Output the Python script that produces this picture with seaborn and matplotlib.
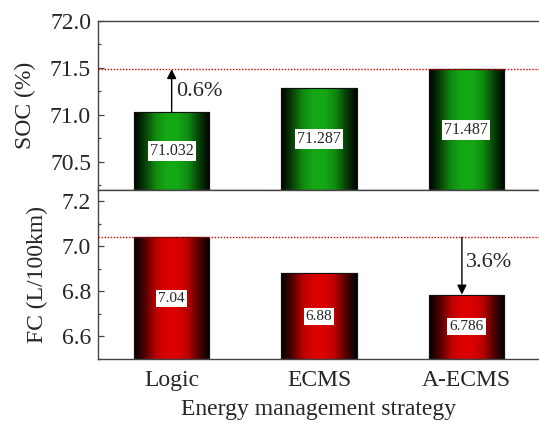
import numpy as np
import pandas as pd
import matplotlib
matplotlib.use("Agg")
import matplotlib.pyplot as plt
import seaborn as sns
from matplotlib.colors import LinearSegmentedColormap

strategies = ["Logic", "ECMS", "A-ECMS"]
soc_values = [71.032, 71.287, 71.487]
fc_values = [7.04, 6.88, 6.786]
soc_labels = ["71.032", "71.287", "71.487"]
fc_labels = ["7.04", "6.88", "6.786"]
soc_gain = "0.6%"
fc_saving = "3.6%"

sns.set_style("ticks")
plt.rcParams["font.family"] = ["Liberation Serif", "DejaVu Serif"]
plt.rcParams["mathtext.fontset"] = "stix"

df = pd.DataFrame({"strategy": strategies, "soc": soc_values, "fc": fc_values})

fig = plt.figure(figsize=(5.39, 4.23), dpi=100)
ax1 = fig.add_axes([98 / 539, 1 - 190 / 423, 442 / 539, 169 / 423])
ax2 = fig.add_axes([98 / 539, 1 - 359 / 423, 442 / 539, 169 / 423])

green_cmap = LinearSegmentedColormap.from_list(
    "g", ["#000000", "#073f07", "#0f8a0f", "#15a815", "#15a815", "#0f8a0f", "#073f07", "#000000"])
red_cmap = LinearSegmentedColormap.from_list(
    "r", ["#000000", "#500000", "#b80000", "#dc0000", "#dc0000", "#b80000", "#500000", "#000000"])


def draw(ax, col, ylim, cmap, labels, fs):
    sns.barplot(data=df, x="strategy", y=col, ax=ax, width=0.51,
                color="#10a010", edgecolor="#111111", linewidth=0.8, saturation=1)
    ax.set_ylim(*ylim)
    ax.set_xlim(-0.5, 2.5)
    grad = np.linspace(0, 1, 256).reshape(1, -1)
    for p, lab in zip(ax.patches, labels):
        x0 = p.get_x()
        w = p.get_width()
        top = p.get_height()
        im = ax.imshow(grad, cmap=cmap, aspect="auto",
                       extent=(x0, x0 + w, ylim[0], top), zorder=p.get_zorder() + 0.1,
                       interpolation="bicubic")
        im.set_clip_path(p)
        ax.add_patch(plt.Rectangle((x0, ylim[0]), w, top - ylim[0], fill=False,
                                   edgecolor="#111111", linewidth=0.8,
                                   zorder=p.get_zorder() + 0.2))
        ax.text(x0 + w / 2, (ylim[0] + top) / 2, lab, ha="center", va="center",
                fontsize=fs, zorder=5,
                bbox=dict(facecolor="white", edgecolor="none", pad=1.5))


draw(ax1, "soc", (70.2, 72.0), green_cmap, soc_labels, 11.5)
draw(ax2, "fc", (6.5, 7.25), red_cmap, fc_labels, 11)

for ax in (ax1, ax2):
    ax.set_xlabel("")
    for s in ax.spines.values():
        s.set_color("#444444")
        s.set_linewidth(1.0)
    ax.tick_params(axis="y", direction="in", length=4, width=0.9, labelsize=17,
                   color="#444444", pad=5)
    ax.tick_params(axis="y", which="minor", direction="in", length=2.5, width=0.9,
                   color="#444444")
    ax.tick_params(axis="x", length=0, labelsize=17, pad=8)

ax1.set_yticks([70.5, 71.0, 71.5, 72.0])
ax1.set_yticks([70.25, 70.75, 71.25, 71.75], minor=True)
ax1.set_yticklabels(["70.5", "71.0", "71.5", "72.0"])
ax1.set_xticks([])
ax1.set_ylabel("SOC (%)", fontsize=17, labelpad=10)

ax2.set_yticks([6.6, 6.8, 7.0, 7.2])
ax2.set_yticks([6.5, 6.7, 6.9, 7.1], minor=True)
ax2.set_yticklabels(["6.6", "6.8", "7.0", "7.2"])
ax2.set_ylabel("FC (L/100km)", fontsize=17, labelpad=10)
ax2.set_xlabel("Energy management strategy", fontsize=17, labelpad=6)

# reference lines
ax1.axhline(soc_values[2], color="#e00000", linestyle=(0, (1, 1.2)), linewidth=1.0, zorder=6)
ax2.axhline(fc_values[0], color="#e00000", linestyle=(0, (1, 1.2)), linewidth=1.0, zorder=6)

# arrows
ax1.annotate("", xy=(0, soc_values[2]), xytext=(0, soc_values[0]),
             arrowprops=dict(arrowstyle="-|>", color="black", lw=1.0,
                             mutation_scale=14, shrinkA=0, shrinkB=0), zorder=7)
ax1.text(0.03, 71.25, soc_gain, fontsize=16, ha="left", va="center")

ax2.annotate("", xy=(1.97, fc_values[2]), xytext=(1.97, fc_values[0]),
             arrowprops=dict(arrowstyle="-|>", color="black", lw=1.0,
                             mutation_scale=14, shrinkA=0, shrinkB=0), zorder=7)
ax2.text(2.0, 6.93, fc_saving, fontsize=16, ha="left", va="center")

fig.savefig("out.png", dpi=100)
